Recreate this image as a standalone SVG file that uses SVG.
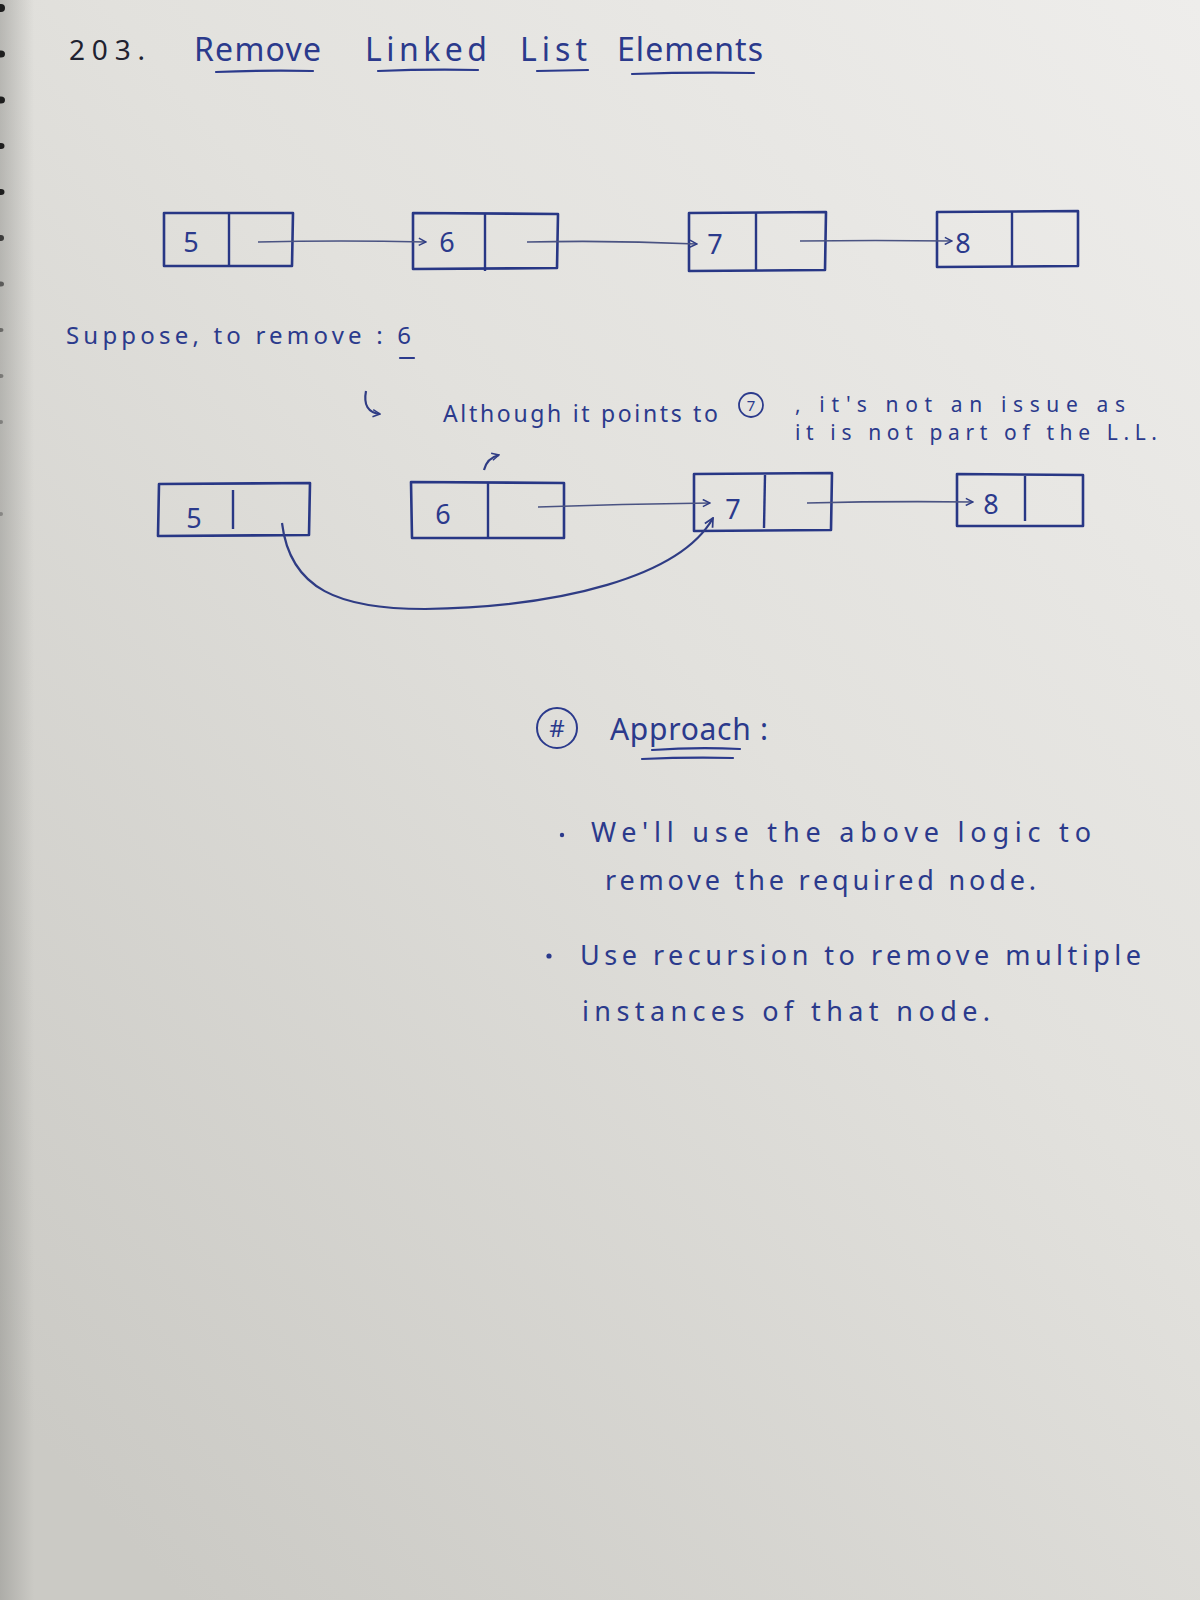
<svg xmlns="http://www.w3.org/2000/svg" width="1200" height="1600" viewBox="0 0 1200 1600">
  <defs>
    <linearGradient id="paper" x1="1" y1="0" x2="0.15" y2="1">
      <stop offset="0" stop-color="#eeedeb"/>
      <stop offset="0.45" stop-color="#e2e1dd"/>
      <stop offset="1" stop-color="#cbcac5"/>
    </linearGradient>
    <linearGradient id="edge" x1="0" y1="0" x2="1" y2="0">
      <stop offset="0" stop-color="#8f8f8b" stop-opacity="0.5"/>
      <stop offset="1" stop-color="#8f8f8b" stop-opacity="0"/>
    </linearGradient>
    <marker id="tip" viewBox="0 0 10 10" refX="9" refY="5" markerWidth="9" markerHeight="9" markerUnits="userSpaceOnUse" orient="auto">
      <path d="M1,1 L9,5 L1,9" fill="none" stroke="#2f3c84" stroke-width="1.6"/>
    </marker>
    <marker id="tipBig" viewBox="0 0 10 10" refX="9" refY="5" markerWidth="11" markerHeight="11" markerUnits="userSpaceOnUse" orient="auto">
      <path d="M1,1 L9,5 L1,9" fill="none" stroke="#2f3c84" stroke-width="1.6"/>
    </marker>
  </defs>
  <style>
    .ink { fill: #2b3a8c; font-family: "Noto Sans", "Open Sans", sans-serif; }
    .dark { fill: #1f2230; font-family: "Noto Sans", "Open Sans", sans-serif; }
    .box { fill: none; stroke: #283785; stroke-width: 2.6; stroke-linejoin: round; }
    .div { stroke: #283785; stroke-width: 2.4; }
    .uline { stroke: #2b3a8c; stroke-width: 2.2; fill: none; stroke-linecap: round; }
    .link { fill: none; stroke: #4a5382; stroke-width: 1.6; }
    .curve { fill: none; stroke: #2f3c84; stroke-width: 2.2; }
    .digit { font-size: 27px; text-anchor: middle; }
  </style>

  <!-- paper -->
  <rect x="0" y="0" width="1200" height="1600" fill="url(#paper)"/>
  <rect x="0" y="0" width="34" height="1600" fill="url(#edge)"/>
  <!-- binding holes along the left edge -->
  <g fill="#1e1e1e">
    <ellipse cx="1" cy="8" rx="4" ry="4"/>
    <ellipse cx="1" cy="54" rx="4" ry="3.5"/>
    <ellipse cx="1" cy="100" rx="4" ry="3.5"/>
    <ellipse cx="1" cy="146" rx="3.5" ry="3"/>
    <ellipse cx="1" cy="192" rx="3.5" ry="3"/>
    <ellipse cx="1" cy="238" rx="3" ry="3" opacity="0.8"/>
    <ellipse cx="1" cy="284" rx="3" ry="2.5" opacity="0.6"/>
    <ellipse cx="1" cy="330" rx="2.5" ry="2" opacity="0.5"/>
    <ellipse cx="1" cy="376" rx="2.5" ry="2" opacity="0.4"/>
    <ellipse cx="1" cy="422" rx="2" ry="2" opacity="0.35"/>
    <ellipse cx="1" cy="514" rx="2" ry="2" opacity="0.3"/>
  </g>

  <!-- heading -->
  <g id="title">
    <text class="dark" x="69" y="60" font-size="28" textLength="76" lengthAdjust="spacing">203.</text>
    <text class="ink" x="194" y="61" font-size="32" textLength="127" lengthAdjust="spacing">Remove</text>
    <text class="ink" x="365" y="61" font-size="32" textLength="122" lengthAdjust="spacing">Linked</text>
    <text class="ink" x="520" y="61" font-size="32" textLength="67" lengthAdjust="spacing">List</text>
    <text class="ink" x="617" y="61" font-size="32" textLength="146" lengthAdjust="spacing">Elements</text>
    <path class="uline" d="M216,72 Q265,70 313,71"/>
    <path class="uline" d="M378,71 Q428,69 478,70"/>
    <path class="uline" d="M537,71 L588,70"/>
    <path class="uline" d="M632,74 Q692,72 754,73"/>
  </g>

  <!-- first list: 5 -> 6 -> 7 -> 8 -->
  <g id="a-node5">
    <path class="box" d="M164,213 L293,213 L292,266 L164,266 Z"/>
    <line class="div" x1="229" y1="213" x2="229" y2="266"/>
    <text class="ink digit" x="191" y="252">5</text>
  </g>
  <g id="a-node6">
    <path class="box" d="M413,213 L558,214 L557,268 L413,269 Z"/>
    <line class="div" x1="485" y1="213" x2="485" y2="271"/>
    <text class="ink digit" x="447" y="252">6</text>
  </g>
  <g id="a-node7">
    <path class="box" d="M689,213 L826,212 L825,270 L689,271 Z"/>
    <line class="div" x1="756" y1="212" x2="756" y2="271"/>
    <text class="ink digit" x="715" y="254">7</text>
  </g>
  <g id="a-node8">
    <path class="box" d="M937,212 L1078,211 L1078,266 L937,267 Z"/>
    <line class="div" x1="1012" y1="211" x2="1012" y2="266"/>
    <text class="ink digit" x="963" y="253">8</text>
  </g>

  <g id="caption">
    <text class="ink" x="66" y="344" font-size="24" textLength="345" lengthAdjust="spacing">Suppose, to remove : 6</text>
    <path class="uline" d="M400,358 L414,358"/>
    <text class="ink" x="443" y="422" font-size="23" textLength="275" lengthAdjust="spacing">Although it points to</text>
    <circle cx="751" cy="405" r="12" fill="none" stroke="#2b3a8c" stroke-width="1.8"/>
    <text class="ink" x="751" y="411" font-size="15" text-anchor="middle">7</text>
    <text class="ink" x="795" y="412" font-size="21" textLength="330" lengthAdjust="spacing">, it's not an issue as</text>
    <text class="ink" x="795" y="440" font-size="21" textLength="362" lengthAdjust="spacing">it is not part of the L.L.</text>
  </g>

  <!-- second list: 5 skips 6 and points at 7 -->
  <g id="b-node5">
    <path class="box" d="M159,484 L310,483 L309,535 L158,536 Z"/>
    <line class="div" x1="233" y1="490" x2="233" y2="529"/>
    <text class="ink digit" x="194" y="528">5</text>
  </g>
  <g id="b-node6">
    <path class="box" d="M411,482 L564,483 L564,538 L412,538 Z"/>
    <line class="div" x1="488" y1="483" x2="488" y2="538"/>
    <text class="ink digit" x="443" y="524">6</text>
  </g>
  <g id="b-node7">
    <path class="box" d="M694,474 L832,473 L831,530 L694,531 Z"/>
    <line class="div" x1="765" y1="475" x2="764" y2="528"/>
    <text class="ink digit" x="733" y="519">7</text>
  </g>
  <g id="b-node8">
    <path class="box" d="M957,474 L1083,475 L1083,526 L957,526 Z"/>
    <line class="div" x1="1025" y1="476" x2="1025" y2="521"/>
    <text class="ink digit" x="991" y="514">8</text>
  </g>

  <g id="approach">
    <circle cx="557" cy="728" r="20" fill="none" stroke="#2b3a8c" stroke-width="2"/>
    <text class="ink" x="557" y="737" font-size="24" text-anchor="middle">#</text>
    <text class="ink" x="610" y="740" font-size="30" textLength="158" lengthAdjust="spacing">Approach :</text>
    <path class="uline" d="M652,750 Q696,747 740,749"/>
    <path class="uline" d="M642,759 Q688,757 733,758"/>
  </g>

  <g id="notes">
    <circle cx="562" cy="835" r="2.2" fill="#2b3a8c"/>
    <text class="ink" x="591" y="842" font-size="27" textLength="500" lengthAdjust="spacing">We'll use the above logic to</text>
    <text class="ink" x="605" y="890" font-size="27" textLength="431" lengthAdjust="spacing">remove the required node.</text>
    <circle cx="549" cy="956" r="2.6" fill="#2b3a8c"/>
    <text class="ink" x="580" y="965" font-size="27" textLength="561" lengthAdjust="spacing">Use recursion to remove multiple</text>
    <text class="ink" x="582" y="1021" font-size="27" textLength="408" lengthAdjust="spacing">instances of that node.</text>
  </g>

  <g id="connectors">
    <path class="link" d="M258,242 Q340,240 426,242" marker-end="url(#tip)"/>
    <path class="link" d="M527,242 Q610,240 697,244" marker-end="url(#tip)"/>
    <path class="link" d="M800,241 Q875,240 952,241" marker-end="url(#tip)"/>
    <path class="link" d="M538,507 Q620,504 710,503" marker-end="url(#tip)"/>
    <path class="link" d="M807,503 Q890,501 973,502" marker-end="url(#tip)"/>
    <path class="curve" d="M282,523 C290,590 340,609 425,609 C560,607 680,577 713,518" marker-end="url(#tipBig)"/>
    <path class="curve" d="M366,391 Q362,412 380,414" marker-end="url(#tip)"/>
    <path class="curve" d="M484,470 Q487,458 499,455" marker-end="url(#tip)"/>
  </g>
</svg>
